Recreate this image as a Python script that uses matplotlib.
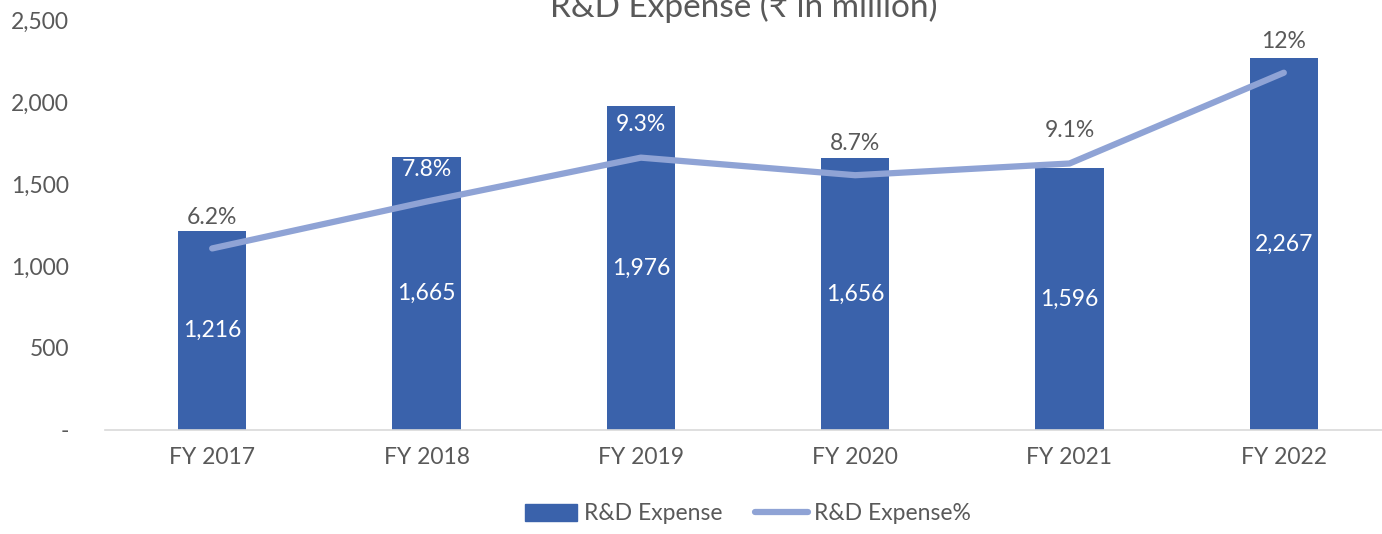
import matplotlib
matplotlib.use("Agg")
import matplotlib.pyplot as plt
from matplotlib.ticker import FuncFormatter
from matplotlib.lines import Line2D
from matplotlib.patches import Patch

categories = ["FY 2017", "FY 2018", "FY 2019", "FY 2020", "FY 2021", "FY 2022"]
expense = [1216, 1665, 1976, 1656, 1596, 2267]
expense_pct = [6.2, 7.8, 9.3, 8.7, 9.1, 12.2]
pct_labels = ["6.2%", "7.8%", "9.3%", "8.7%", "9.1%", "12%"]
title = "R&D Expense (₹ in million)"

plt.rcParams['font.family'] = ['Lato', 'DejaVu Sans']

BAR = "#3a62ab"
LINE = "#8fa3d5"
GREY = "#595959"
FS = 16.5

fig = plt.figure(figsize=(13.82, 5.34), dpi=100)
ax = fig.add_axes([105/1382, 104/534, 1286/1382, 410/534])
x = list(range(len(categories)))
bars = ax.bar(x, expense, width=0.32, color=BAR, zorder=2)
ax.set_xlim(-0.5, len(categories) - 0.5)
ax.set_ylim(0, 2500)
ax.set_yticks([0, 500, 1000, 1500, 2000, 2500])
ax.yaxis.set_major_formatter(FuncFormatter(lambda v, p: "-" if v == 0 else f"{int(v):,}"))
ax.set_xticks(x)
ax.set_xticklabels(categories)
ax.tick_params(axis='both', length=0, labelsize=FS, labelcolor=GREY)
ax.tick_params(axis='y', pad=26)
ax.tick_params(axis='x', pad=12)
for s in ['top', 'right', 'left']:
    ax.spines[s].set_visible(False)
ax.spines['bottom'].set_color("#d9d9d9")
ax.spines['bottom'].set_linewidth(1.2)

for xi, v in zip(x, expense):
    ax.text(xi, v / 2, f"{v:,}", ha='center', va='center', color='white', fontsize=FS, zorder=5)

ax2 = ax.twinx()
ax2.set_ylim(0, 14)
ax2.plot(x, expense_pct, color=LINE, lw=4.5, solid_capstyle='round', solid_joinstyle='round', zorder=3)
ax2.axis('off')

# percentage label offsets (pixels relative to bar top) and colours
offsets = [13, -13, -19, 15, 38, 17]
colors = [GREY, 'white', 'white', GREY, GREY, GREY]
for xi, v, lab, off, c in zip(x, expense, pct_labels, offsets, colors):
    ax.annotate(lab, xy=(xi, v), xytext=(0, off), textcoords='offset pixels',
                ha='center', va='center', fontsize=FS, color=c, zorder=6)

fig.text(744/1382, 1 - 17/534, title, ha='center', va='baseline', fontsize=24, color=GREY)

handles = [Patch(color=BAR), Line2D([0], [0], color=LINE, lw=4.5, solid_capstyle='round')]
fig.legend(handles, ["R&D Expense", "R&D Expense%"], loc='center', bbox_to_anchor=(748/1382, 1 - 514/534),
           ncol=2, frameon=False, fontsize=FS, labelcolor=GREY, handlelength=2.3, handletextpad=0.3,
           columnspacing=1.4, handleheight=0.7)

fig.savefig("out.png", dpi=100)
